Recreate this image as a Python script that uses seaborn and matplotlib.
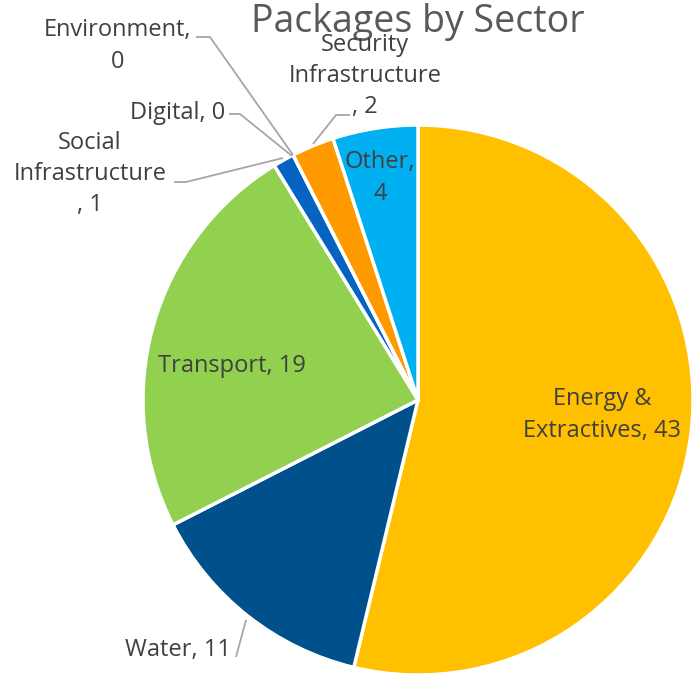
import matplotlib
matplotlib.use("Agg")
import matplotlib.pyplot as plt
import seaborn as sns

sectors = ["Energy &\nExtractives", "Water", "Transport", "Social\nInfrastructure\n",
           "Digital", "Environment,\n", "Security\nInfrastructure\n", "Other,\n"]
packages = [43, 11, 19, 1, 0, 0, 2, 4]
colours = ["#FFC000", "#00508C", "#92D050", "#0563C1",
           "#7F7F7F", "#A5A5A5", "#FF9900", "#00B0F0"]

sns.set_theme(style="white")
plt.rcParams["font.family"] = ["Open Sans", "DejaVu Sans"]

W, H = 693, 677
fig = plt.figure(figsize=(W / 100, H / 100), dpi=100)
ax = fig.add_axes([0, 0, 1, 1])


def px(x, y):
    return (x, H - y)


ax.pie(packages, colors=colours, startangle=90, counterclock=False,
       center=px(418, 400), radius=275,
       wedgeprops=dict(edgecolor="white", linewidth=2.5))
ax.set_xlim(0, W)
ax.set_ylim(0, H)
ax.set_aspect("equal")
ax.axis("off")

txt = "#404040"
line = "#A6A6A6"
fs = 17

ax.text(*px(418, 22), "Packages by Sector", ha="center", va="center",
        fontsize=27, color="#595959")


def label(i, pos, sep=", "):
    s = sectors[i]
    if s.endswith(",\n"):
        s = s + str(packages[i])
    elif s.endswith("\n"):
        s = s + ", " + str(packages[i])
    else:
        s = s + sep + str(packages[i])
    ax.text(*px(*pos), s, ha="center", va="center", fontsize=fs,
            color=txt, linespacing=1.4)


def leader(points):
    xs = [p[0] for p in points]
    ys = [H - p[1] for p in points]
    ax.plot(xs, ys, color=line, lw=1.3, solid_capstyle="butt")


label(0, (602, 415))
label(1, (178, 650))
label(2, (232, 366))
label(3, (90, 174))
label(4, (178, 113))
label(5, (118, 46))
label(6, (365, 76))
label(7, (380, 178))

leader([(196, 37), (210, 37), (293, 155)])
leader([(229, 114), (240, 114), (292, 156)])
leader([(174, 182), (186, 182), (283, 158)])
leader([(350, 115), (336, 115), (313, 144)])
leader([(236, 657), (246, 620)])

fig.savefig("out.png", dpi=100)
